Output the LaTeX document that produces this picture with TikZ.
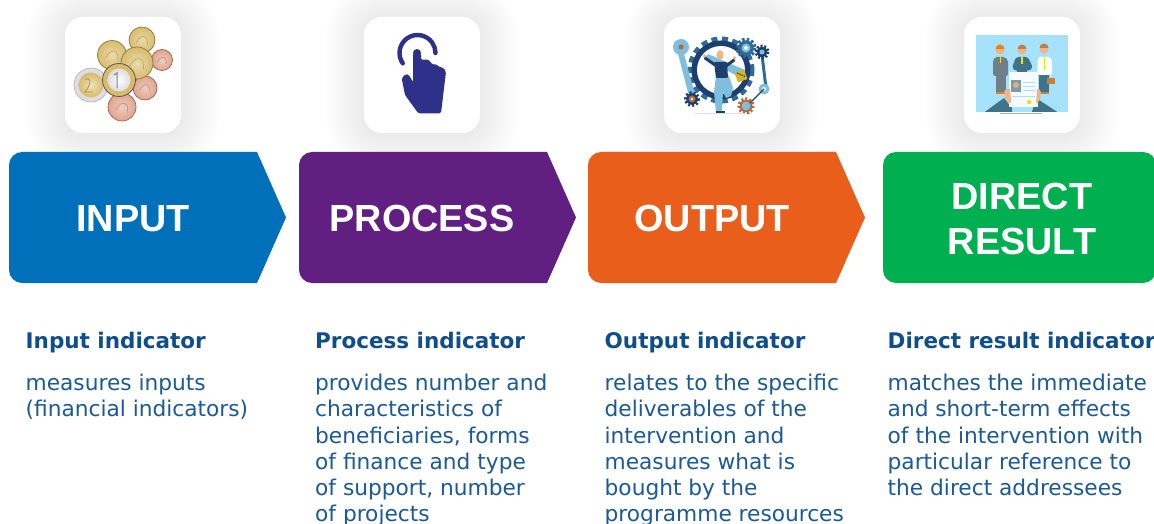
\documentclass[tikz,border=0pt]{standalone}
\usepackage{fontspec}
\setmainfont{DejaVu Sans}
\newfontfamily\titlefont{Liberation Sans}
\definecolor{cblue}{HTML}{0070BB}
\definecolor{cpurple}{HTML}{612081}
\definecolor{corange}{HTML}{E95E1A}
\definecolor{cgreen}{HTML}{00B050}
\definecolor{ctext}{HTML}{1B5A96}
\definecolor{chead}{HTML}{0F4E8C}
\definecolor{hand}{HTML}{2E3189}
\definecolor{gold}{HTML}{D8BC6C}
\definecolor{goldd}{HTML}{8F7A3A}
\definecolor{copper}{HTML}{DFA48E}
\definecolor{copperd}{HTML}{A0604A}
\definecolor{silver}{HTML}{DDDDE2}
\definecolor{navy}{HTML}{1D3F70}
\definecolor{midblue}{HTML}{2F6A98}
\definecolor{sky}{HTML}{7FBFDD}
\definecolor{scenebg}{HTML}{A6E2FB}
\definecolor{teal}{HTML}{3F7388}
\definecolor{rust}{HTML}{B5683C}
\definecolor{skin}{HTML}{F0B48C}
\definecolor{suit}{HTML}{6E7F8A}
\tikzset{
  x=1pt,y=-1pt,
  titletext/.style={text=white,font=\titlefont\fontsize{37.8}{45}\selectfont\bfseries,align=center,inner sep=0pt},
  headtext/.style={text=chead,font=\fontsize{21.5}{26}\selectfont\bfseries,anchor=base west,inner sep=0pt},
  bodytext/.style={text=ctext,font=\fontsize{21.7}{26.2}\selectfont,anchor=north west,align=left,inner sep=0pt},
}
\newcommand{\softshadow}[2]{%
  \foreach \e in {1,3,...,39}{%
    \fill[black,opacity=0.0032,rounded corners=18pt+\e pt] (#1-\e,#2-\e+2) rectangle (#1+116+\e,#2+116+\e+2);}%
  \fill[white,rounded corners=18pt] (#1,#2) rectangle (#1+116,#2+116);}
\newcommand{\bannershape}[2]{% left edge, colour
  \fill[#2] (#1+13,152) .. controls (#1+6,152) and (#1,158) .. (#1,165) -- (#1,270) .. controls (#1,277) and (#1+6,283) .. (#1+13,283) -- (#1+248,283) -- (#1+277,217.5) -- (#1+248,152) -- cycle;}
\newcommand{\coinshape}[5]{% x y r face edge
  \shade[inner color=#4!55!white,outer color=#4,draw=#5,line width=0.7pt] (#1,#2) circle[radius=#3];
  \draw[#5!45!#4,line width=0.5pt] (#1-#3*0.45,#2+#3*0.2) .. controls (#1,#2-#3*0.6) and (#1+#3*0.5,#2-#3*0.3) .. (#1+#3*0.4,#2+#3*0.4);}
\newcommand{\gearshapeicon}[6]{% x y r tooth-on tooth-off colour
  \draw[#6,line width=#3*0.45pt,dash pattern=on #4pt off #5pt] (#1,#2) circle[radius=#3];
  \fill[#6] (#1,#2) circle[radius=#3*0.9];}
\begin{document}
\begin{tikzpicture}
\useasboundingbox (0,0) rectangle (1154,524);
\fill[white] (0,0) rectangle (1154,524);
\clip (0,0) rectangle (1154,524);
% icon tiles
\softshadow{65}{17}
\softshadow{364}{17}
\softshadow{664}{17}
\softshadow{964}{17}
% banners
\bannershape{9}{cblue}
\bannershape{299}{cpurple}
\bannershape{588}{corange}
\fill[cgreen,rounded corners=13pt] (883,152) rectangle (1156,283);
\node[titletext] (tinput) at (133,218.5) {INPUT};
\node[titletext] (tprocess) at (422,218.5) {PROCESS};
\node[titletext] (toutput) at (712,218.5) {OUTPUT};
\node[titletext] (tdirect) at (1022,218.5) {DIRECT\\RESULT};
% text
\node[headtext] (h1) at (25.5,348) {Input indicator};
\node[headtext] (h2) at (315,348) {Process indicator};
\node[headtext] (h3) at (604.5,348) {Output indicator};
\node[headtext] (h4) at (887.5,348) {Direct result indicator};
\node[bodytext] (b1) at (25.5,374) {measures inputs\\(financial indicators)};
\node[bodytext] (b2) at (315,374) {provides number and\\characteristics of\\beneficiaries, forms\\of finance and type\\of support, number\\of projects};
\node[bodytext] (b3) at (604.5,374) {relates to the specific\\deliverables of the\\intervention and\\measures what is\\bought by the\\programme resources};
\node[bodytext] (b4) at (887.5,374) {matches the immediate\\and short-term effects\\of the intervention with\\particular reference to\\the direct addressees};
% coins
\coinshape{142}{40}{13}{gold}{goldd}
\coinshape{162}{60}{10.5}{copper}{copperd}
\coinshape{145}{88}{12}{copper}{copperd}
\coinshape{122}{107}{14}{copper}{copperd}
\coinshape{112}{55}{14.5}{gold}{goldd}
\coinshape{137}{63}{16}{gold}{goldd}
\fill[silver,draw=gray!60,line width=0.6pt] (91,85) circle[radius=17];
\shade[inner color=gold!45!white,outer color=gold] (91,85) circle[radius=12.5];
\draw[goldd!70!gold,line width=0.7pt] (85,80) .. controls (90,76) and (93,82) .. (85,92) -- (93,92);
\fill[gold,draw=black!65,line width=0.8pt] (119,80) circle[radius=16.5];
\shade[inner color=white,outer color=silver] (119,80) circle[radius=11.5];
\draw[gray,line width=1pt,line cap=round] (114,75) -- (117,73) -- (117,88);
% pointing hand
\draw[hand,line width=4.4pt,line cap=round] (417.5,53) ++(145:18) arc[start angle=145,end angle=360,radius=18];
\fill[hand] (417,53) circle[radius=4];
\fill[hand,rounded corners=1.5pt] (413,53.3) -- (413,82.3) -- (409,75) -- (405.7,74) -- (401.7,78.3) -- (405,95) -- (418.3,113.3) -- (441,113.3) -- (446,71.7) -- (443.3,67.7) -- (438.3,66.7) -- (436.7,64.3) -- (431.7,64.3) -- (429.3,60) -- (424.3,59.3) -- (421,60) -- (421,53.3) -- cycle;
% gears and figure
\draw[midblue,line width=5pt,dash pattern=on 6pt off 4.5pt] (721,70) circle[radius=31];
\fill[navy] (721,70) circle[radius=29.5];
\fill[white] (721,70) circle[radius=24];
\fill[sky] (704,58) -- (708,54) -- (745,70) -- (741,78) -- cycle;
\fill[sky] (677,50) -- (683,50) -- (696,99) -- (690,100) -- cycle;
\fill[sky] (681,47) circle[radius=8];
\fill[rust] (681,47) circle[radius=2.5];
\draw[midblue,line width=3pt] (762,55) -- (766,88);
\gearshapeicon{746}{48}{8.5}{2.5}{2}{midblue}
\fill[sky] (746,48) circle[radius=4.5];
\fill[white] (746,48) circle[radius=2];
\gearshapeicon{762}{52}{6}{2}{1.8}{navy}
\fill[sky] (762,52) circle[radius=2.5];
\gearshapeicon{692}{99}{6.5}{2}{2}{navy}
\fill[rust] (692,99) circle[radius=3.5];
\fill[white] (692,99) circle[radius=1.3];
\gearshapeicon{746}{106}{7}{2}{2}{rust}
\fill[sky] (746,106) circle[radius=4.5];
\fill[sky] (764,89) circle[radius=5.5];
\fill[white] (764,89) circle[radius=2];
\draw[navy,line width=1.2pt] (750,103) -- (764,89);
\fill[gray!25] (695,113) rectangle (745,114);
% figure
\fill[sky] (716,76) -- (729,76) -- (733,88) -- (731,96) -- (726,98) -- (723,92) -- (722,112) -- (716,112) -- (714,92) -- cycle;
\fill[navy,rounded corners=1pt] (714,62) -- (727,62) -- (728,78) -- (716,78) -- cycle;
\draw[navy,line width=3pt,line cap=round] (715,65) -- (705,58);
\draw[navy,line width=3pt,line cap=round] (726,66) -- (734,60);
\fill[skin] (704.5,56) circle[radius=1.8];
\fill[skin] (734.5,58) circle[radius=1.8];
\fill[navy] (716,111) rectangle (725,113.5);
\fill[skin] (720,55) ellipse[x radius=3.6,y radius=4.8];
\fill[rust!50!yellow,rotate around={20:(741,76)}] (736,71) rectangle (746,81);
\draw[navy,line width=1.2pt,dash pattern=on 1.5pt off 1pt] (737,73) -- (745,76.5);
% result scene
\fill[scenebg] (976,35) rectangle (1068,112);
\draw[gray!60,line width=1pt] (1000,113.5) -- (1042,113.5);
% people
\fill[suit] (996,75) rectangle (1006,93);
\fill[orange!60!brown] (996,92) rectangle (1006,94);
\fill[suit,rounded corners=2pt] (995,57) -- (1005,57) -- (1008,60) -- (1008,76) -- (993,76) -- (993,60) -- cycle;
\fill[yellow!80!orange] (999.5,57) rectangle (1001,63);
\fill[skin] (1000,50) circle[radius=4.5];
\fill[orange!85!brown] (995.5,49) arc[start angle=180,end angle=360,radius=4.5] -- cycle;
\fill[teal,rounded corners=2pt] (1016,57) -- (1028,57) -- (1033,68) -- (1028,71) -- (1016,71) -- (1012,68) -- cycle;
\fill[teal] (1017,70) rectangle (1027,78);
\fill[skin] (1022,50) circle[radius=4.5];
\fill[brown] (1017.5,49) arc[start angle=180,end angle=360,radius=4.5] -- cycle;
\fill[yellow!80!orange] (1021.3,57) rectangle (1022.8,64);
\fill[teal] (1039,74) rectangle (1049,93);
\fill[brown] (1039,92) rectangle (1049,94);
\fill[white,rounded corners=2pt] (1038,57) -- (1050,57) -- (1052,60) -- (1052,75) -- (1037,75) -- cycle;
\fill[yellow!80!orange] (1043.5,57) rectangle (1045,70);
\fill[skin] (1044,49) circle[radius=4.5];
\fill[brown] (1039.5,48) arc[start angle=180,end angle=360,radius=4.5] -- cycle;
\fill[brown!85!orange] (1047,78) rectangle (1055,84);
% document and hands
\fill[teal] (985,111.8) -- (1004,98) -- (1012,108) -- (1012,111.8) -- cycle;
\fill[teal] (1036,98) -- (1057,111.8) -- (1032,111.8) -- cycle;
\fill[white!90!scenebg] (1009,72) rectangle (1038,107);
\fill[teal!70!white] (1011,80) rectangle (1021,92);
\fill[skin!80!brown] (1016,85) circle[radius=3];
\draw[scenebg,line width=0.8pt] (1023,82) -- (1035,82) (1023,86) -- (1035,86) (1023,90) -- (1035,90) (1012,96) -- (1035,96);
\fill[yellow!80!orange] (1029,102) circle[radius=2.2];
\fill[skin,rounded corners=2pt] (1004,90) -- (1010,88) -- (1011,100) -- (1011,104) -- (1005,100) -- cycle;
\fill[skin,rounded corners=2pt] (1037,88) -- (1041,90) -- (1040,100) -- (1036,104) -- cycle;
\end{tikzpicture}
\end{document}
